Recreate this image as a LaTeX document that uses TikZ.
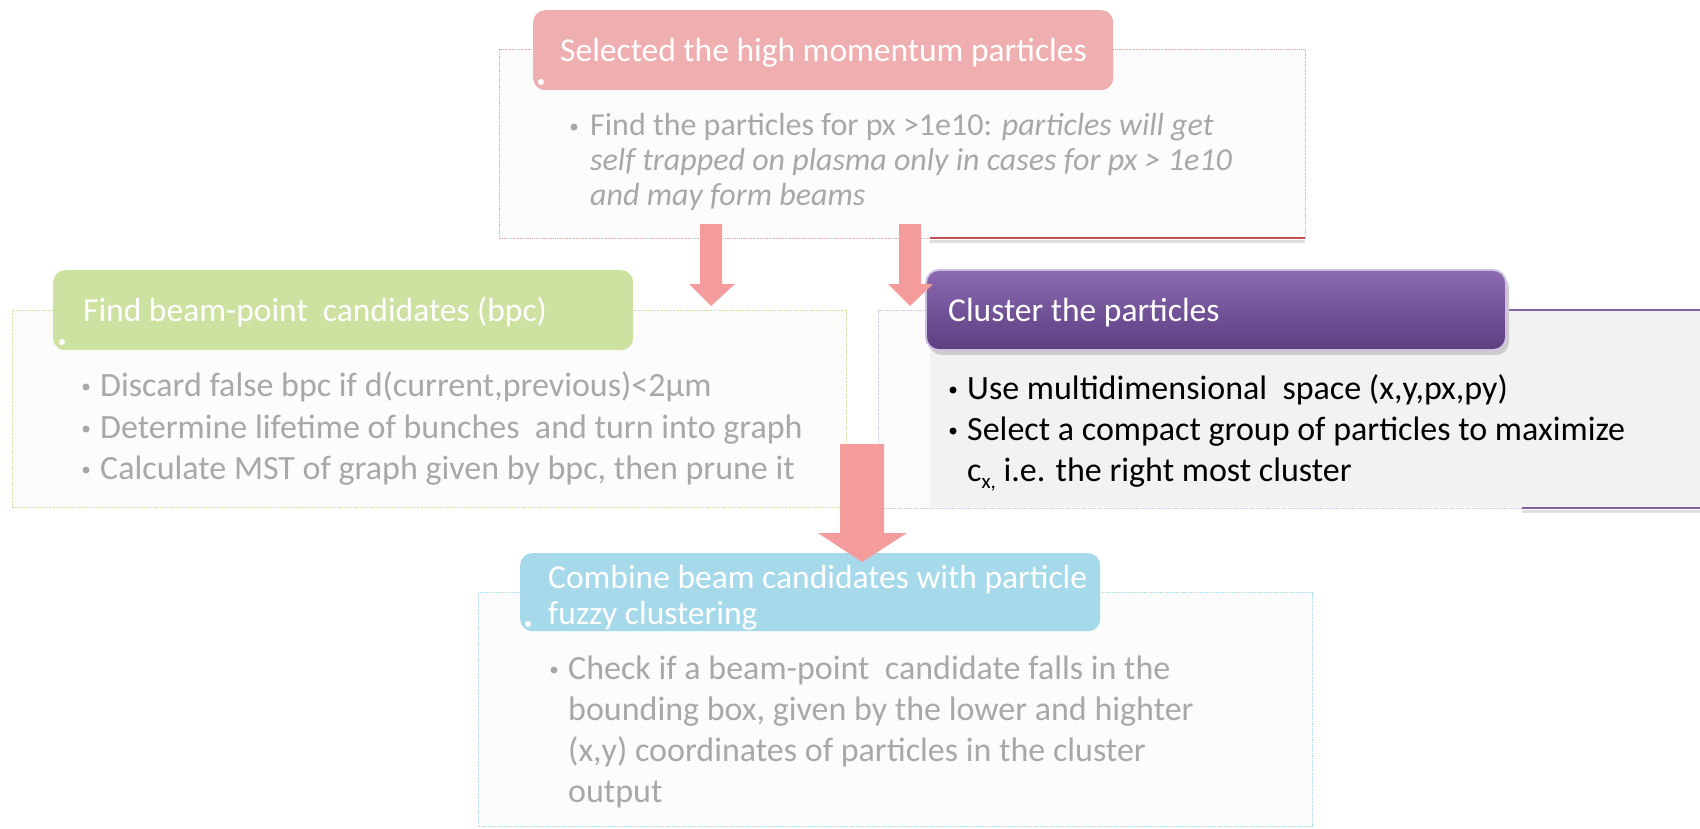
\documentclass[tikz,border=0pt]{standalone}
\usepackage{fontspec}
\setmainfont{Carlito}
\definecolor{redT}{HTML}{EFAFB0}
\definecolor{greenT}{HTML}{CDE2A0}
\definecolor{blueT}{HTML}{A6DAEB}
\definecolor{redB}{HTML}{E8A3A5}
\definecolor{greenB}{HTML}{C9DF9C}
\definecolor{blueB}{HTML}{A8DDEC}
\definecolor{purpB}{HTML}{CDBFE0}
\definecolor{fadeFill}{HTML}{FCFCFC}
\definecolor{fadeTxt}{HTML}{A8A8A8}
\definecolor{arrowRed}{HTML}{F49C9C}
\definecolor{solidRed}{HTML}{C0504D}
\definecolor{solidPurp}{HTML}{8064A2}
\definecolor{purpTop}{HTML}{8B6AB2}
\definecolor{purpBot}{HTML}{5D3E80}
\definecolor{greyFill}{HTML}{F2F2F2}
\newcommand\bodyF{\fontsize{34}{41}\selectfont}
\newcommand\redF{\fontsize{32}{35}\selectfont}
\newcommand\titleF{\fontsize{33.5}{37}\selectfont}
\begin{document}
\begin{tikzpicture}[x=1pt,y=-1pt,
  fadebox/.style={draw=#1, densely dotted, line width=1.3pt, fill=fadeFill, minimum width=834pt, anchor=north west, inner sep=0pt},
  titlebar/.style={fill=#1, rounded corners=12pt, minimum width=580pt, anchor=north west, inner sep=0pt},
  ttxt/.style={text=white, font=\titleF, inner sep=0pt, anchor=base west},
  ftxt/.style={text=fadeTxt, font=\bodyF, inner sep=0pt, anchor=base west},
  rtxt/.style={text=fadeTxt, font=\redF, inner sep=0pt, anchor=base west},
  ptxt/.style={text=black, font=\bodyF, inner sep=0pt, anchor=base west},
  fbul/.style={circle, fill=fadeTxt, inner sep=0pt, minimum size=7pt},
  pbul/.style={circle, fill=black, inner sep=0pt, minimum size=7pt},
  wdot/.style={circle, fill=white, inner sep=0pt, minimum size=6pt},
  blockarrow/.style={fill=arrowRed}]
\useasboundingbox (0,0) rectangle (1700,828);
\fill[white] (0,0) rectangle (1700,828);

% ---------- content boxes ----------
\node[fadebox=redB, minimum width=806pt, minimum height=189pt] (redbox) at (499,49) {};
\node[fadebox=greenB, minimum height=197pt] (greenbox) at (12,310) {};
\node[fadebox=blueB, minimum height=234pt] (bluebox) at (478,592) {};
% purple box: faded left strip + solid grey area
\node[fadebox=purpB, minimum height=198pt] (purpbox) at (878,310) {};
\fill[greyFill] (930,311) rectangle (1700,507);
\draw[solidPurp, line width=2pt] (1500,310) -- (1700,310);
\draw[gray!25, line width=3pt] (1522,511) -- (1700,511);
\draw[solidPurp, line width=2.2pt] (1522,508) -- (1700,508);
% solid part of red bottom line
\draw[gray!25, line width=3pt] (930,241) -- (1305,241);
\draw[solidRed, line width=2.4pt] (930,238) -- (1305,238);

% ---------- title bars ----------
\node[titlebar=redT, minimum height=80pt] (redtitle) at (533,10) {};
\node[titlebar=greenT, minimum height=80pt] (greentitle) at (53,270) {};
\node[titlebar=blueT, minimum height=78pt] (bluetitle) at (520,553) {};
\fill[gray!40, rounded corners=13pt] (929,275) rectangle (1509,355);
\shade[top color=purpTop, bottom color=purpBot, rounded corners=13pt, draw=purpB, line width=1.8pt]
  (926,270) rectangle (1506,350);
\node[inner sep=0pt, minimum width=580pt, minimum height=80pt, anchor=north west] (purptitle) at (926,270) {};

\node[wdot] (rdot) at (541,82) {};
\node[wdot] (gdot) at (62,342) {};
\node[wdot] (bdot) at (528,624) {};

% ---------- title texts ----------
\node[ttxt] (rt) at (560,61) {Selected the high momentum particles};
\node[ttxt] (gt) at (83,321) {Find beam-point\ \ candidates (bpc)};
\node[ttxt] (pt) at (948,321) {Cluster the particles};
\node[ttxt] (bt1) at (548,588) {Combine beam candidates with particle};
\node[ttxt] (bt2) at (548,624) {fuzzy clustering};

% ---------- body texts ----------
\node[fbul] (rb1) at (574,127) {};
\node[rtxt] (r1) at (590,135) {Find the particles for px >1e10: \textit{particles will get}};
\node[rtxt] (r2) at (590,170) {\textit{self trapped on plasma only in cases for px > 1e10}};
\node[rtxt] (r3) at (590,205) {\textit{and may form beams}};

\node[fbul] (gb1) at (86,387) {};
\node[fbul] (gb2) at (86,429) {};
\node[fbul] (gb3) at (86,470) {};
\node[ftxt] (g1) at (100,396) {Discard false bpc if d(current,previous)<2μm};
\node[ftxt] (g2) at (100,438) {Determine lifetime of bunches\ \ and turn into graph};
\node[ftxt] (g3) at (100,479) {Calculate MST of graph given by bpc, then prune it};

\node[pbul] (pb1) at (953,390) {};
\node[pbul] (pb2) at (953,431) {};
\node[ptxt] (p1) at (967,399) {Use multidimensional\ \ space (x,y,px,py)};
\node[ptxt] (p2) at (967,440) {Select a compact group of particles\ to maximize};
\node[ptxt] (p3) at (967,481) {c\raisebox{-0.22em}{\fontsize{21}{21}\selectfont x,} i.e. the right most cluster};

\node[fbul] (bb1) at (554,670) {};
\node[ftxt] (b1) at (568,679) {Check if a beam-point\ \ candidate falls in the};
\node[ftxt] (b2) at (568,720) {bounding box, given by the lower and highter};
\node[ftxt] (b3) at (568,761) {(x,y) coordinates of particles in the cluster};
\node[ftxt] (b4) at (568,802) {output};

% ---------- block arrows ----------
\fill[blockarrow] (700,224) -- (722,224) -- (722,284) -- (735,284) -- (711,306) -- (689,284) -- (700,284) -- cycle;
\fill[blockarrow] (899,224) -- (921,224) -- (921,284) -- (933,284) -- (910,306) -- (888,284) -- (899,284) -- cycle;
\fill[blockarrow] (840,444) -- (884,444) -- (884,533) -- (907,533) -- (862,562) -- (818,533) -- (840,533) -- cycle;
\end{tikzpicture}
\end{document}
